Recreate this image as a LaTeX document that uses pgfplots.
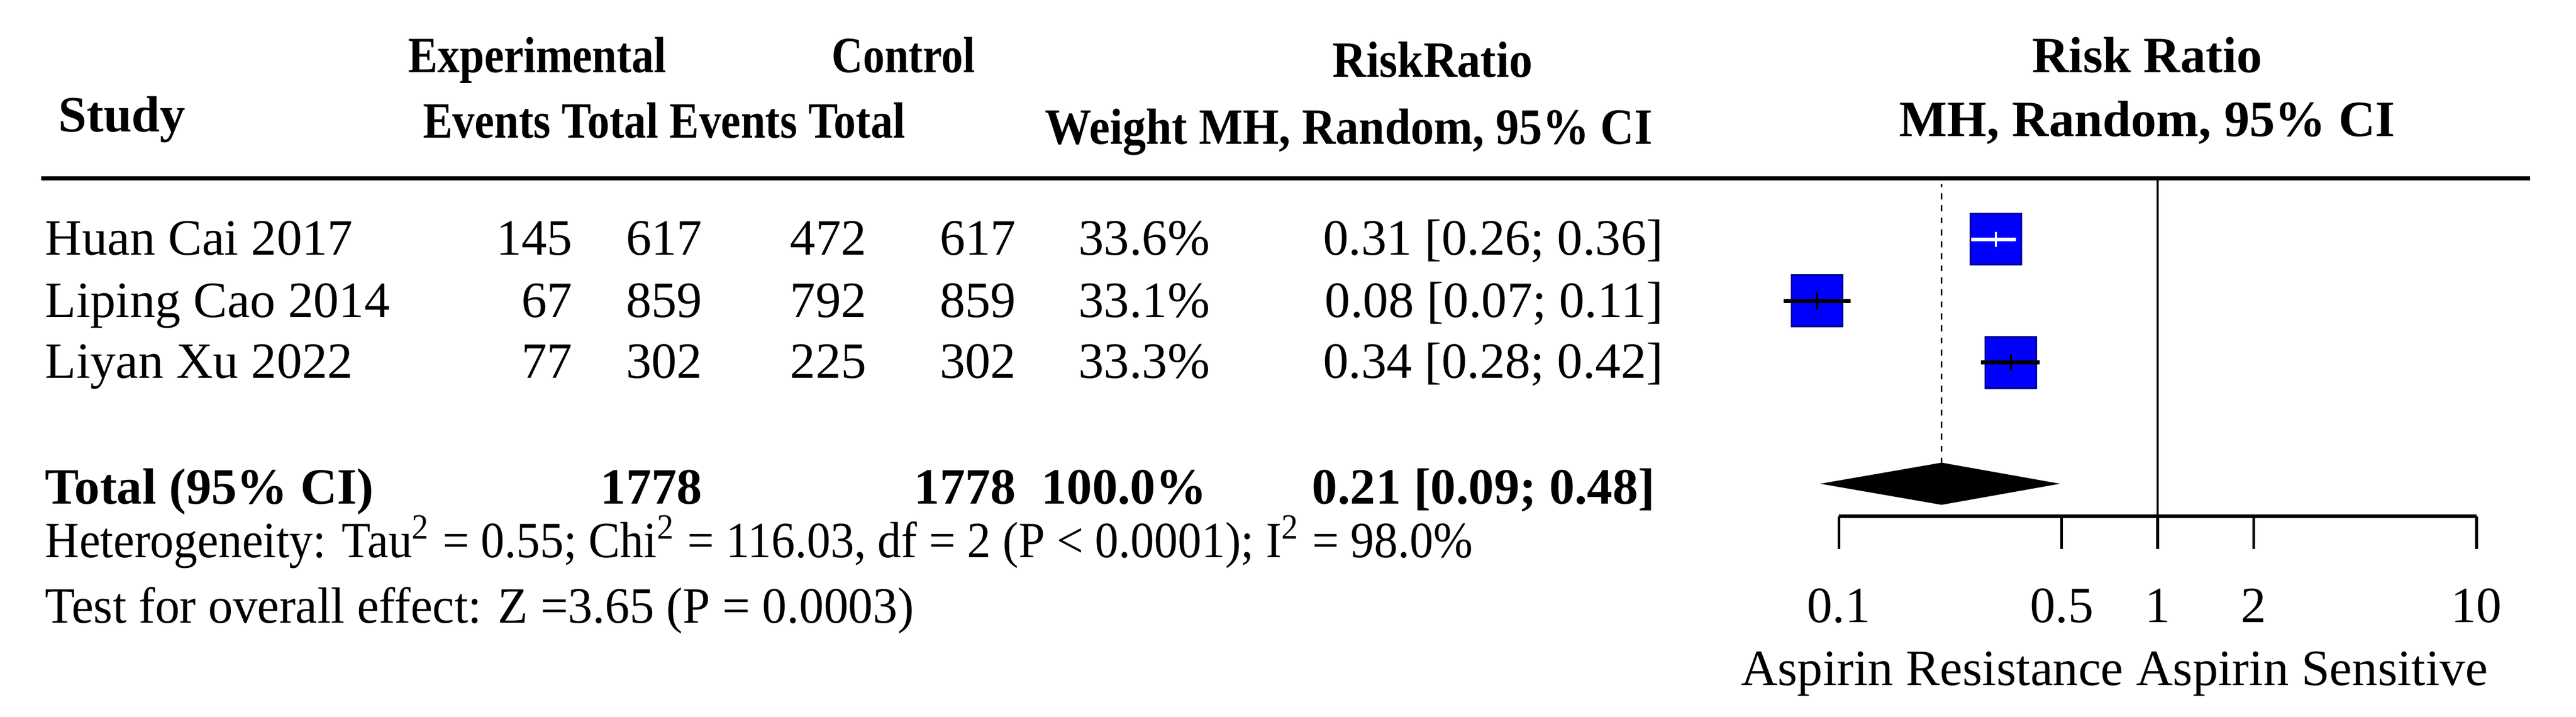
\documentclass[border=0pt]{standalone}
\usepackage{fontspec}
\setmainfont{Liberation Serif}
\usepackage{graphicx}
\usepackage{pgfplots}
\pgfplotsset{compat=1.18}
\definecolor{sqblue}{RGB}{0,0,255}
\definecolor{sqborder}{RGB}{0,0,150}
\newcommand{\fs}{\fontsize{11}{13}\selectfont}
\newcommand{\hx}[2]{\scalebox{#1}[1]{\bfseries #2}}
\begin{document}
\begin{tikzpicture}
\begin{scope}[x=0.0125cm,y=-0.0125cm, every node/.style={font=\fs, inner sep=0pt}]
\path[use as bounding box] (0,0) rectangle (1568,436);
\draw[line width=0.8pt] (25,108.5) -- (1540,108.5);
% headers
\node[anchor=base] at (327,44) {\hx{0.87}{Experimental}};
\node[anchor=base] at (550,44) {\hx{0.85}{Control}};
\node[anchor=base] at (872,47) {\hx{0.92}{RiskRatio}};
\node[anchor=base west, font=\bfseries\fs] at (35,80) {Study};
\node[anchor=base west] at (257,84) {\hx{0.87}{Events Total Events Total}};
\node[anchor=base] at (821,87.5) {\hx{0.915}{Weight MH, Random, 95\% CI}};
\node[anchor=base, font=\bfseries\fs] at (1307,44) {Risk Ratio};
\node[anchor=base, font=\bfseries\fs] at (1307,83) {MH, Random, 95\% CI};
% rows
\foreach \y/\st/\ee/\et/\ce/\ct/\w/\rr in {
  155/Huan Cai 2017/145/617/472/617/33.6\%/0.31 [0.26; 0.36],
  193/Liping Cao 2014/67/859/792/859/33.1\%/0.08 [0.07; 0.11],
  230/Liyan Xu 2022/77/302/225/302/33.3\%/0.34 [0.28; 0.42]}{
  \node[anchor=base west] at (27,\y) {\st};
  \node[anchor=base east] at (349,\y) {\ee};
  \node[anchor=base east] at (428,\y) {\et};
  \node[anchor=base east] at (528,\y) {\ce};
  \node[anchor=base east] at (619,\y) {\ct};
  \node[anchor=base east] at (737,\y) {\w};
  \node[anchor=base east] at (1013,\y) {\rr};
}
% total
\node[anchor=base west, font=\bfseries\fs] at (27,306.6) {Total (95\% CI)};
\node[anchor=base east, font=\bfseries\fs] at (428,306.6) {1778};
\node[anchor=base east, font=\bfseries\fs] at (619,306.6) {1778};
\node[anchor=base east, font=\bfseries\fs] at (735,306.6) {100.0\%};
\node[anchor=base east, font=\bfseries\fs] at (1008,306.6) {0.21 [0.09; 0.48]};
\node[anchor=base west] at (27,339) {\scalebox{0.93}[1]{Heterogeneity: Tau\textsuperscript{2} = 0.55; Chi\textsuperscript{2} = 116.03, df = 2 (P < 0.0001); I\textsuperscript{2} = 98.0\%}};
\node[anchor=base west] at (27,379) {\scalebox{0.967}[1]{Test for overall effect: Z =3.65 (P = 0.0003)}};
\node[anchor=base] at (1287,417) {Aspirin Resistance Aspirin Sensitive};
\end{scope}
\begin{axis}[
  at={(13.9875cm,-3.925cm)}, anchor=south west,
  scale only axis, width=4.85cm, height=2.575cm,
  xmode=log, xmin=0.1, xmax=10, ymin=0, ymax=206,
  axis x line*=bottom, axis y line=none,
  axis line style={-, line width=0.7pt},
  xtick={0.1,0.5,1,2,10}, xticklabels={0.1,0.5,1,2,10}, minor xtick={},
  tick align=outside, major tick length=0.25cm,
  tick style={line width=0.6pt, black},
  xticklabel style={font=\fs, anchor=base, yshift=-0.5575cm, inner sep=0pt},
  clip=false, clip marker paths=true,
]
% reference lines
\addplot[black, line width=0.4pt] coordinates {(1,0) (1,206)};
\addplot[black, line width=0.4pt, dash pattern=on 1.3pt off 1.3pt] coordinates {(0.21,32) (0.21,202)};
% squares
\addplot[only marks, mark=square*, mark size=0.194cm, mark options={fill=sqblue, draw=sqborder, line width=0.4pt}]
  coordinates {(0.311,168.5) (0.0855,131) (0.346,93.5)};
% CIs
\addplot[white, line width=0.8pt] coordinates {(0.26,168.5) (0.36,168.5)};
\addplot[white, line width=0.45pt] coordinates {(0.311,164) (0.311,173)};
\addplot[black, line width=0.9pt] coordinates {(0.067,131) (0.109,131)};
\addplot[black, line width=0.5pt] coordinates {(0.0855,126) (0.0855,136)};
\addplot[black, line width=0.9pt] coordinates {(0.279,93.5) (0.426,93.5)};
\addplot[black, line width=0.5pt] coordinates {(0.346,88.5) (0.346,98.5)};
% diamond
\addplot[fill=black, draw=black, line width=0.3pt] coordinates {(0.09,19.8) (0.21,32.2) (0.48,19.8) (0.21,7.4)} -- cycle;
\end{axis}
\end{tikzpicture}
\end{document}
